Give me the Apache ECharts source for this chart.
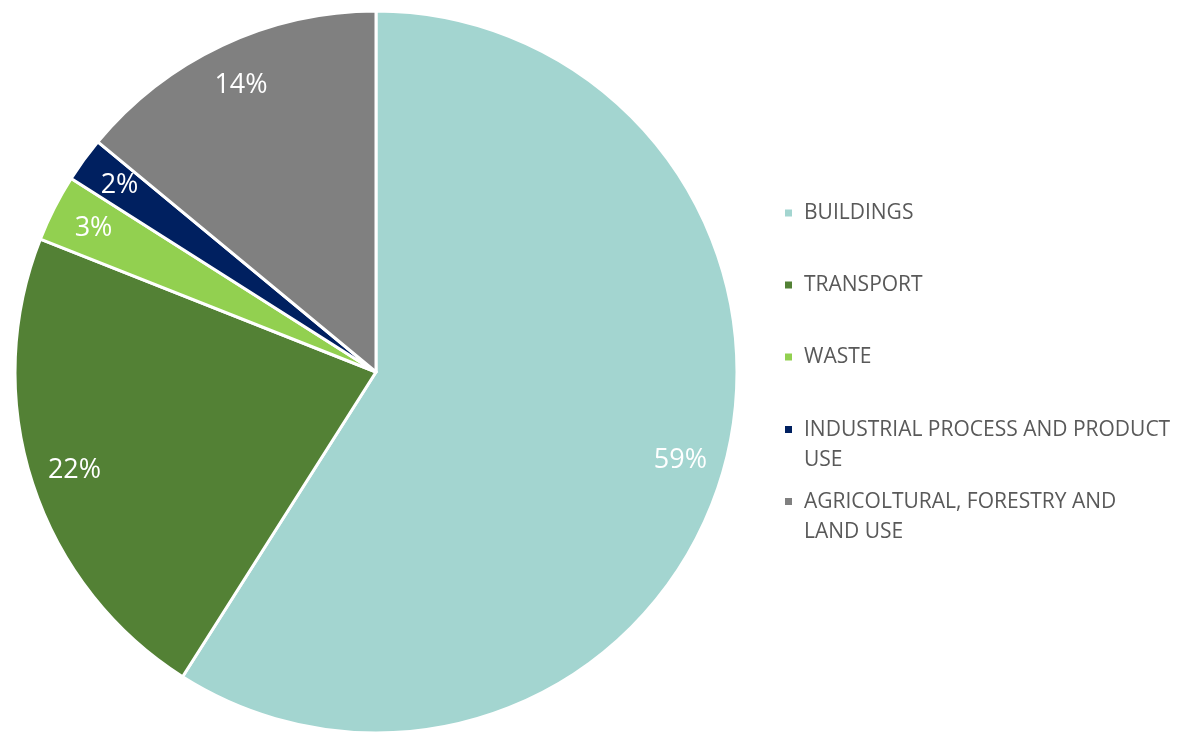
<!DOCTYPE html>
<html>
<head>
<meta charset="utf-8">
<script src="https://cdn.jsdelivr.net/npm/echarts@6/dist/echarts.min.js"></script>
<style>
  html, body { margin: 0; padding: 0; background: #ffffff; }
  #chart { width: 1181px; height: 733px; }
</style>
</head>
<body>
<div id="chart"></div>
<script>
// Emission shares by sector (%)
const sectors = [
  'BUILDINGS',
  'TRANSPORT',
  'WASTE',
  'INDUSTRIAL PROCESS AND PRODUCT USE',
  'AGRICOLTURAL, FORESTRY AND LAND USE'
];
const shares = [59, 22, 3, 2, 14];
const sectorColors = ['#a3d5d0', '#538135', '#92d050', '#002060', '#808080'];
// Legend text as it wraps beside the pie
const legendText = {
  'INDUSTRIAL PROCESS AND PRODUCT USE': 'INDUSTRIAL PROCESS AND PRODUCT\nUSE',
  'AGRICOLTURAL, FORESTRY AND LAND USE': 'AGRICOLTURAL, FORESTRY AND\nLAND USE'
};

const pieData = sectors.map((name, i) => ({
  name: name,
  value: shares[i],
  itemStyle: { color: sectorColors[i] }
}));

const FONT = '"Open Sans", "Noto Sans", sans-serif';
const CENTER = [376, 372];
const R = 361;

// Square marker; a near-invisible speck widens the icon box so the text sits further right
const ICON_ONE = 'path://M0,0h9v9h-9z M14.99,0h0.01v0.01h-0.01z';
// Same marker pinned to the first line of a two-line entry
const ICON_TWO = 'path://M0,0h9v9h-9z M14.99,39.99h0.01v0.01h-0.01z';
const legendTops = [198, 270, 342, 415, 487];

const legends = sectors.map((name, i) => {
  const twoLine = !!legendText[name];
  return {
    data: [{ name: name, icon: twoLine ? ICON_TWO : ICON_ONE }],
    orient: 'vertical',
    left: 783,
    top: legendTops[i],
    padding: 0,
    itemWidth: 15,
    itemHeight: twoLine ? 40 : 9,
    selectedMode: false,
    formatter: n => legendText[n] || n,
    textStyle: {
      fontFamily: FONT,
      fontSize: 21,
      lineHeight: 30,
      color: '#595959'
    }
  };
});

const chart = echarts.init(document.getElementById('chart'), null, { renderer: 'canvas' });
chart.setOption({
  animation: false,
  backgroundColor: '#ffffff',
  legend: legends,
  series: [
    {
      type: 'pie',
      center: CENTER,
      radius: [0, R],
      startAngle: 90,
      clockwise: true,
      silent: true,
      label: { show: false },
      labelLine: { show: false },
      itemStyle: { borderColor: '#ffffff', borderWidth: 3 },
      data: pieData
    },
    {
      // percentage labels placed near the rim of each slice
      type: 'pie',
      center: CENTER,
      radius: [270, 358],
      startAngle: 90,
      clockwise: true,
      silent: true,
      itemStyle: { color: 'rgba(0,0,0,0)', borderWidth: 0 },
      label: {
        show: true,
        position: 'inside',
        formatter: p => p.value + '%',
        color: '#ffffff',
        fontFamily: FONT,
        fontSize: 27
      },
      labelLine: { show: false },
      data: sectors.map((name, i) => ({ name: name, value: shares[i] }))
    }
  ]
});
</script>
</body>
</html>
